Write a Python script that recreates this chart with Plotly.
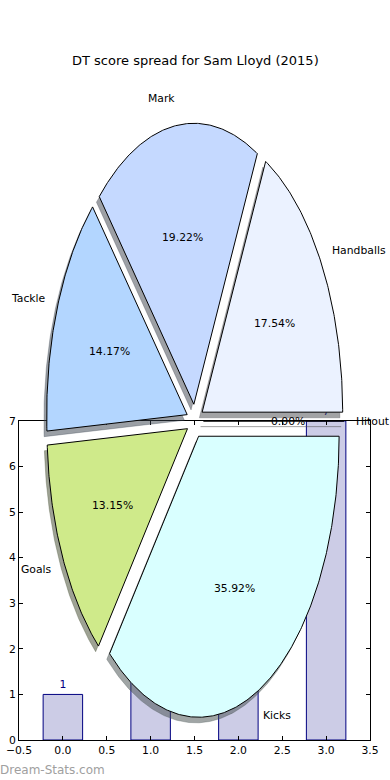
import numpy as np
import plotly.graph_objects as go

# ---------------- data ----------------
pie_labels = ["Hitout", "Handballs", "Mark", "Tackle", "Goals", "Kicks"]
pie_percents = [0.00, 17.54, 19.22, 14.17, 13.15, 35.92]
pie_explode = [0.06, 0.06, 0.06, 0.06, 0.06, 0.06]
pie_colors = ["#FFFFFF", "#EBF2FF", "#C5D9FF", "#B3D6FF", "#CFEA8A", "#D9FFFF"]

bar_x = [0, 1, 2, 3]
bar_values = [1, 2, 3, 7]

x_tickvals = [-0.5, 0.0, 0.5, 1.0, 1.5, 2.0, 2.5, 3.0, 3.5]
x_ticktext = ["\u22120.5", "0.0", "0.5", "1.0", "1.5", "2.0", "2.5", "3.0", "3.5"]
y_tickvals = [0, 1, 2, 3, 4, 5, 6, 7]

title_text = "DT score spread for Sam Lloyd (2015)"
watermark = "Dream-Stats.com"

W, H = 390, 780
FONT = "DejaVu Sans"
LABEL_SIZE = 10.8

fig = go.Figure()

# ---------------- bar chart (bottom axes) ----------------
fig.add_trace(go.Bar(
    x=bar_x, y=bar_values, width=0.45,
    marker=dict(color="rgba(0,0,128,0.2)", line=dict(color="#000080", width=1)),
    text=[str(v) for v in bar_values], textposition="outside",
    textfont=dict(color="#000080", size=LABEL_SIZE, family=FONT),
    constraintext="none", cliponaxis=False,
    xaxis="x", yaxis="y", showlegend=False, hoverinfo="skip",
))

# ---------------- pie (drawn as filled wedges on an overlay axes) ----------------
vals = np.array(pie_percents, dtype=float)
fracs = vals / vals.sum()
edges = np.concatenate([[0.0], np.cumsum(fracs)]) * 360.0


def hex_rgb(h):
    h = h.lstrip("#")
    return tuple(int(h[i:i + 2], 16) for i in (0, 2, 4))


wedges = []
for i, lab in enumerate(pie_labels):
    t1, t2 = edges[i], edges[i + 1]
    m = np.deg2rad((t1 + t2) / 2)
    cx = pie_explode[i] * np.cos(m)
    cy = pie_explode[i] * np.sin(m)
    n = max(2, int(abs(t2 - t1) / 0.5) + 2)
    th = np.deg2rad(np.linspace(t1, t2, n))
    xs = np.concatenate([[cx], cx + np.cos(th), [cx]])
    ys = np.concatenate([[cy], cy + np.sin(th), [cy]])
    wedges.append((xs, ys, m, cx, cy))

# shadows first (below every wedge)
for i, (xs, ys, m, cx, cy) in enumerate(wedges):
    r, g, b = hex_rgb(pie_colors[i])
    sc = "rgba(%d,%d,%d,0.5)" % (0.3 * r, 0.3 * g, 0.3 * b)
    fig.add_trace(go.Scatter(
        x=xs - 0.02, y=ys - 0.02, mode="lines", fill="toself", fillcolor=sc,
        line=dict(color=sc, width=0.6), xaxis="x2", yaxis="y2",
        showlegend=False, hoverinfo="skip",
    ))

for i, (xs, ys, m, cx, cy) in enumerate(wedges):
    fig.add_trace(go.Scatter(
        x=xs, y=ys, mode="lines", fill="toself", fillcolor=pie_colors[i],
        line=dict(color="black", width=1), xaxis="x2", yaxis="y2",
        showlegend=False, hoverinfo="skip",
    ))

annotations = []
for i, (xs, ys, m, cx, cy) in enumerate(wedges):
    lx = cx + 1.1 * np.cos(m)
    ly = cy + 1.1 * np.sin(m)
    right_side = np.cos(m) > 0
    annotations.append(dict(
        x=lx, y=ly, xref="x2", yref="y2", text=pie_labels[i], showarrow=False,
        xanchor="left" if right_side else "right", yanchor="middle",
        xshift=-2 if right_side else 2, borderpad=0, borderwidth=0,
        font=dict(family=FONT, size=LABEL_SIZE, color="black"),
    ))
    px = cx + 0.6 * np.cos(m)
    py = cy + 0.6 * np.sin(m)
    annotations.append(dict(
        x=px, y=py, xref="x2", yref="y2", text="%.2f%%" % pie_percents[i],
        showarrow=False, xanchor="center", yanchor="middle",
        borderpad=0, borderwidth=0,
        font=dict(family=FONT, size=LABEL_SIZE, color="black"),
    ))

annotations.append(dict(
    x=0.5, y=1 - 61 / H, xref="paper", yref="paper", text=title_text,
    showarrow=False, xanchor="center", yanchor="middle",
    font=dict(family=FONT, size=13, color="black"),
))
annotations.append(dict(
    x=0.0, y=1 - 770 / H, xref="paper", yref="paper", text=watermark,
    showarrow=False, xanchor="left", yanchor="middle", borderpad=0, borderwidth=0,
    font=dict(family=FONT, size=12, color="rgb(160,160,160)"),
))

# pie axes geometry: center (195,421) px, rx=140.5 px, ry=281 px
PCX, PCY, RX, RY = 195.0, 421.0, 140.5, 281.0

axis_common = dict(showline=True, mirror="ticks", linecolor="black", linewidth=1,
                   ticks="inside", ticklen=4, tickwidth=1, tickcolor="black",
                   showgrid=False, zeroline=False, automargin=False,
                   tickfont=dict(family=FONT, size=LABEL_SIZE, color="black"))

fig.update_layout(
    width=W, height=H,
    margin=dict(l=0, r=0, t=0, b=0, pad=0, autoexpand=False),
    paper_bgcolor="white", plot_bgcolor="rgba(0,0,0,0)",
    showlegend=False,
    xaxis=dict(domain=[19 / W, 370 / W], range=[-0.5, 3.5], anchor="y",
               tickmode="array", tickvals=x_tickvals, ticktext=x_ticktext,
               **axis_common),
    yaxis=dict(domain=[1 - 740 / H, 1 - 421 / H], range=[0, 7], anchor="x",
               tickmode="array", tickvals=y_tickvals,
               **axis_common),
    xaxis2=dict(domain=[0, 1], range=[-PCX / RX, (W - PCX) / RX], anchor="y2",
                visible=False, fixedrange=True, automargin=False),
    yaxis2=dict(domain=[0, 1], range=[-(H - PCY) / RY, PCY / RY], anchor="x2",
                visible=False, fixedrange=True, automargin=False),
    annotations=annotations,
)

fig.write_html("out.html", config={"displayModeBar": False},
               post_script="document.body.style.margin='0px';document.body.style.overflow='hidden';")
